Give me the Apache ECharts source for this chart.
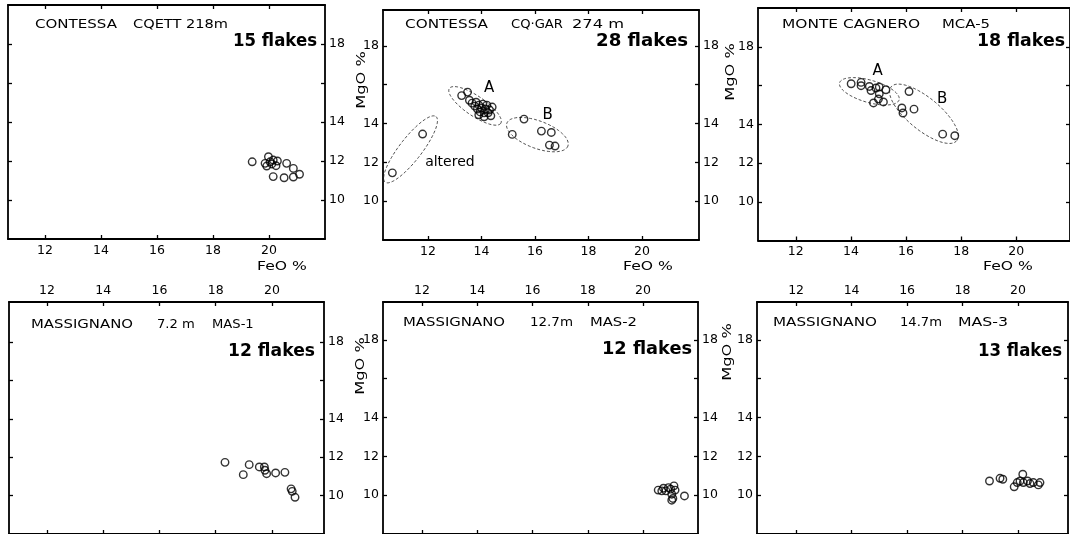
<!DOCTYPE html>
<html><head><meta charset="utf-8">
<script src="https://cdn.jsdelivr.net/npm/echarts@6/dist/echarts.min.js"></script>
<style>html,body{margin:0;padding:0;background:#fff}#c{width:1070px;height:534px}</style>
</head><body><div id="c"></div>
<script>
// ---------- data ----------
const xTicks = [12, 14, 16, 18, 20];
const yTicks = [10, 12, 14, 16, 18];
const yTickLabels = [10, 12, 14, 18];
const xName = 'FeO %';
const yName = 'MgO %';

const titleParts = [
  ['CONTESSA', 'CQETT 218m'],
  ['CONTESSA', 'CQ·GAR', '274 m'],
  ['MONTE CAGNERO', 'MCA-5'],
  ['MASSIGNANO', '7.2 m', 'MAS-1'],
  ['MASSIGNANO', '12.7m', 'MAS-2'],
  ['MASSIGNANO', '14.7m', 'MAS-3']
];
const flakeCounts = [15, 28, 18, 12, 12, 13];

const cqett218 = [
  [19.40,11.96],[19.98,12.22],[19.86,11.88],[20.04,11.96],[20.15,12.05],
  [20.30,12.00],[20.25,11.76],[19.92,11.74],[20.10,11.85],[20.15,11.20],
  [20.63,11.88],[20.54,11.14],[20.87,11.62],[21.09,11.32],[20.87,11.18]
];
const cqgar274 = [
  // altered
  [10.67,11.46],[11.80,13.46],
  // group A
  [13.26,15.44],[13.48,15.62],[13.55,15.20],[13.65,15.05],[13.75,14.90],
  [13.80,15.10],[13.85,14.75],[13.90,14.95],[13.95,14.60],[14.00,14.80],
  [14.05,15.00],[14.10,14.55],[14.10,14.35],[14.15,14.75],[14.20,14.95],
  [14.25,14.55],[14.30,14.70],[14.35,14.40],[13.90,14.45],[14.40,14.85],
  // group B
  [15.59,14.23],[15.15,13.44],[16.24,13.61],[16.61,13.54],[16.54,12.89],[16.75,12.84]
];
const mca5 = [
  [14.01,16.09],[14.37,16.16],[14.37,15.99],[14.67,15.95],[14.73,15.74],
  [14.91,15.87],[15.03,15.92],[15.27,15.78],[15.03,15.57],[15.00,15.30],
  [15.18,15.15],[14.82,15.10],[16.11,15.69],[15.85,14.84],[15.89,14.58],
  [16.29,14.78],[17.33,13.49],[17.77,13.41]
];
const mas1 = [
  [18.33,11.73],[19.19,11.61],[18.98,11.09],[19.55,11.49],[19.73,11.49],
  [19.75,11.32],[19.81,11.14],[20.13,11.18],[20.46,11.21],[20.68,10.35],
  [20.72,10.22],[20.82,9.91]
];
const mas2 = [
  [20.55,10.26],[20.74,10.36],[20.92,10.39],[20.83,10.22],[21.00,10.31],
  [21.12,10.48],[21.16,10.26],[21.04,10.05],[21.08,9.83],[21.04,9.74],
  [21.50,9.96],[20.68,10.22]
];
const mas3 = [
  [18.97,10.73],[19.35,10.87],[19.45,10.82],[19.86,10.43],[20.17,11.08],
  [20.07,10.73],[20.19,10.65],[20.34,10.73],[20.43,10.60],[20.55,10.65],
  [20.73,10.53],[20.79,10.65],[19.97,10.65]
];
// ellipses: [centerX, centerY, majorTipX, majorTipY, minor/major ratio]
const garEllipses = [[11.35,12.67,12.30,14.36,0.27],[13.76,14.91,14.72,14.01,0.32],[16.09,13.43,17.23,12.84,0.42]];
const mcaEllipses = [[14.67,15.70,15.75,15.26,0.36],[16.65,14.54,17.84,13.15,0.38]];
// group labels: [x, y, text]
const garLabels = [[14.29,15.82,'A'],[16.47,14.44,'B'],[12.82,12.00,'altered']];
const mcaLabels = [[14.97,16.76,'A'],[17.31,15.30,'B']];

// ---------- layout ----------
const FONT = 'DejaVu Sans';
const panels = [
  {data: cqett218, grid:{left:8, top:5, width:317, height:234}, x:[10.68,22.0], y:[8,20], xSide:'bottom', ySides:['right'],
   titleX:[35,133], titleW:[82,95], titleY:25, flakes:{x:317, y:42, w:84, align:'right'}},
  {data: cqgar274, grid:{left:383, top:10, width:316, height:230}, x:[10.32,22.13], y:[8,19.85], xSide:'bottom', ySides:['left','right'],
   titleX:[405,511,572], titleW:[83,45,52], titleY:25, flakes:{x:688, y:42, w:92, align:'right'}, ell: garEllipses, lab: garLabels},
  {data: mca5, grid:{left:758, top:8, width:314, height:232.5}, x:[10.63,21.95], y:[8,20], xSide:'bottom', ySides:['left'],
   titleX:[782,942], titleW:[138,48], titleY:25, flakes:{x:977, y:42, w:88, align:'left'}, ell: mcaEllipses, lab: mcaLabels},
  {data: mas1, grid:{left:9, top:302, width:315, height:232.5}, x:[10.65,21.85], y:[8,20.08], xSide:'top', ySides:['right'],
   titleX:[31,157,212], titleW:[102,36,38], titleY:325, flakes:{x:315, y:352, w:87, align:'right'}},
  {data: mas2, grid:{left:383, top:302, width:315, height:233}, x:[10.59,21.99], y:[8,19.95], xSide:'top', ySides:['left','right'],
   titleX:[403,530,590], titleW:[102,43,47], titleY:323, flakes:{x:692, y:350, w:90, align:'right'}},
  {data: mas3, grid:{left:757, top:302, width:311, height:233}, x:[10.59,21.8], y:[8,19.95], xSide:'top', ySides:['left'],
   titleX:[773,900,958], titleW:[104,40,50], titleY:323, flakes:{x:1062, y:352, w:84, align:'right'}}
];

const measureCtx = document.createElement('canvas').getContext('2d');
function fitScale(text, font, target, lo, hi) {
  measureCtx.font = font;
  const w = measureCtx.measureText(text).width;
  const s = w > 0 ? target / w : 1;
  return Math.max(lo, Math.min(hi, s));
}

const grids = [], xAxes = [], yAxes = [], series = [], graphics = [];
const lineStyle = {color:'#000', width:1.8};
const tickStyle = {color:'#000', width:1.3};
const labelStyle = {color:'#000', fontSize:12.5, fontFamily:FONT};

panels.forEach((p, i) => {
  grids.push(Object.assign({containLabel:false}, p.grid));
  ['bottom','top'].forEach(pos => {
    xAxes.push({gridIndex:i, type:'value', position:pos, min:p.x[0], max:p.x[1],
      axisLine:{show:true, onZero:false, lineStyle},
      axisTick:{show:true, inside:true, length:4, customValues:xTicks, lineStyle:tickStyle},
      axisLabel:Object.assign({show: pos===p.xSide, customValues:xTicks, margin:5}, labelStyle),
      splitLine:{show:false}});
  });
  ['left','right'].forEach(pos => {
    yAxes.push({gridIndex:i, type:'value', position:pos, min:p.y[0], max:p.y[1],
      axisLine:{show:true, onZero:false, lineStyle},
      axisTick:{show:true, inside:true, length:4, customValues:yTicks, lineStyle:tickStyle},
      axisLabel:Object.assign({show: p.ySides.indexOf(pos)>=0, customValues:yTickLabels, margin:4}, labelStyle),
      splitLine:{show:false}});
  });
  series.push({type:'scatter', xAxisIndex:2*i, yAxisIndex:2*i, data:p.data, symbol:'circle', symbolSize:7.5,
    itemStyle:{color:'rgba(0,0,0,0)', borderColor:'#000', borderWidth:1.4}, silent:true, z:3});
  if (p.ell) {
    series.push({type:'custom', xAxisIndex:2*i, yAxisIndex:2*i, data:p.ell, silent:true, clip:false, z:2,
      renderItem:function(params, api){
        const c = api.coord([api.value(0), api.value(1)]);
        const t = api.coord([api.value(2), api.value(3)]);
        const ax = t[0]-c[0], ay = t[1]-c[1], r = api.value(4);
        const bx = -ay*r, by = ax*r;
        const pts = [];
        for (let k = 0; k <= 90; k++) {
          const a = k/90*Math.PI*2;
          pts.push([c[0]+Math.cos(a)*ax+Math.sin(a)*bx, c[1]+Math.cos(a)*ay+Math.sin(a)*by]);
        }
        return {type:'polyline', shape:{points:pts}, style:{stroke:'#222', lineWidth:0.8, lineDash:[3,2], fill:null}};
      }});
  }
  if (p.lab) {
    const labs = p.lab;
    series.push({type:'custom', xAxisIndex:2*i, yAxisIndex:2*i, data:labs.map(l => [l[0], l[1]]), silent:true, clip:false, z:4,
      renderItem:function(params, api){
        const c = api.coord([api.value(0), api.value(1)]);
        const txt = labs[params.dataIndex][2];
        return {type:'text', x:c[0], y:c[1], style:{text:txt, fill:'#000',
          font: (txt.length>1 ? '14px ' : '15px ') + FONT, textAlign:'center', textVerticalAlign:'middle'}};
      }});
  }
  // titles
  const tFont = '12.5px ' + FONT;
  titleParts[i].forEach((t, k) => {
    graphics.push({type:'text', x:p.titleX[k], y:p.titleY, scaleX:fitScale(t, tFont, p.titleW[k], 1.05, 1.3), silent:true,
      style:{text:t, fill:'#000', font:tFont, textAlign:'left', textVerticalAlign:'middle'}});
  });
  const fFont = 'bold 17px ' + FONT;
  const fText = flakeCounts[i] + ' flakes';
  graphics.push({type:'text', x:p.flakes.x, y:p.flakes.y, scaleX:fitScale(fText, fFont, p.flakes.w, 0.9, 1.2), silent:true,
    style:{text:fText, fill:'#000', font:fFont, textAlign:p.flakes.align, textVerticalAlign:'middle'}});
});

// axis names
[[362,80],[731,72],[361,366],[728,352]].forEach(pt => {
  graphics.push({type:'text', x:pt[0], y:pt[1], rotation:Math.PI/2, scaleX:1.25, silent:true,
    style:{text:yName, fill:'#000', font:'13px '+FONT, textAlign:'center', textVerticalAlign:'middle'}});
});
[[282,267],[648,267],[1008,267]].forEach(pt => {
  graphics.push({type:'text', x:pt[0], y:pt[1], scaleX:1.2, silent:true,
    style:{text:xName, fill:'#000', font:'13px '+FONT, textAlign:'center', textVerticalAlign:'middle'}});
});

const chart = echarts.init(document.getElementById('c'), null, {renderer:'canvas'});
chart.setOption({
  backgroundColor:'#fff',
  animation:false,
  grid:grids, xAxis:xAxes, yAxis:yAxes, series:series, graphic:graphics
});
</script></body></html>
